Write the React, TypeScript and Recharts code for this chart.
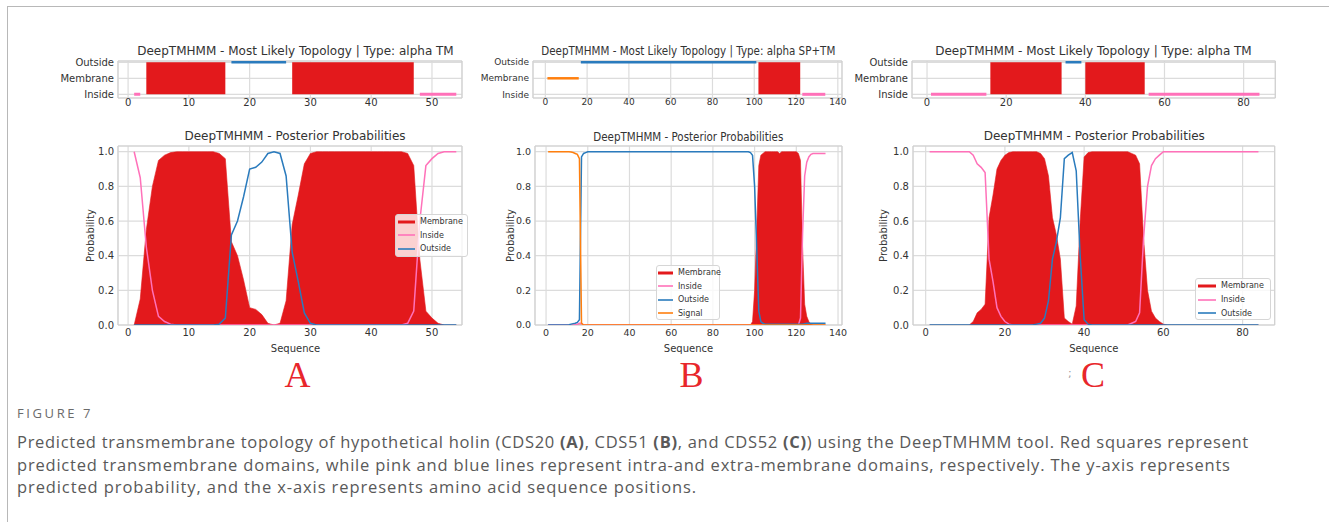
import React from 'react';
import { ComposedChart, Area, Line, XAxis, YAxis, CartesianGrid, ReferenceArea, Legend } from 'recharts';

const RED = '#e3191c';
const PINK = '#ff71b9';
const BLUE = '#2a7bbd';
const ORANGE = '#ff7f0e';
const GRID = '#dcdcdc';
const FRAME = '#cfcfcf';
const INK = '#333333';
const FONT = '"DejaVu Sans", Verdana, sans-serif';

const TOPO_LABELS = ['Inside', 'Membrane', 'Outside'];
const LEGEND_ORDER = ['Membrane', 'Inside', 'Outside', 'Signal'];
const PROB_TICKS = [0, 0.2, 0.4, 0.6, 0.8, 1.0];
const TICKS_A = [0, 10, 20, 30, 40, 50];
const TICKS_B = [0, 20, 40, 60, 80, 100, 120, 140];
const TICKS_C = [0, 20, 40, 60, 80];

// --- A: CDS20, 54 residues ---
const topoMembraneA = [[3, 16], [27, 47]];
const topoInsideA = [[1, 2], [48, 54]];
const topoOutsideA = [[17, 26]];

const membraneA = [
  0, 0.15, 0.55, 0.8, 0.95, 0.98, 0.995, 1, 1, 1,
  1, 1, 1, 1, 0.99, 0.96, 0.48, 0.4, 0.26, 0.1,
  0.09, 0.06, 0.01, 0, 0.01, 0.14, 0.58, 0.75, 0.93, 0.99,
  1, 1, 1, 1, 1, 1, 1, 1, 1, 1,
  1, 1, 1, 1, 1, 0.99, 0.92, 0.38, 0.08, 0.04,
  0.01, 0, 0, 0,
];
const insideA = [
  1, 0.85, 0.45, 0.2, 0.05, 0.02, 0.005, 0, 0, 0,
  0, 0, 0, 0, 0, 0, 0, 0, 0, 0,
  0, 0, 0, 0, 0, 0, 0, 0, 0, 0,
  0, 0, 0, 0, 0, 0, 0, 0, 0, 0,
  0, 0, 0, 0, 0, 0.01, 0.08, 0.6, 0.92, 0.96,
  0.99, 1, 1, 1,
];
const outsideA = [
  0, 0, 0, 0, 0, 0, 0, 0, 0, 0,
  0, 0, 0, 0, 0.005, 0.04, 0.52, 0.6, 0.74, 0.9,
  0.91, 0.94, 0.99, 1, 0.99, 0.86, 0.42, 0.25, 0.07, 0.01,
  0, 0, 0, 0, 0, 0, 0, 0, 0, 0,
  0, 0, 0, 0, 0, 0, 0, 0, 0, 0,
  0, 0, 0, 0,
];

// --- B: CDS51, 134 residues ---
const topoSignalB = [[1, 16]];
const topoOutsideB = [[17, 101]];
const topoMembraneB = [[102, 122]];
const topoInsideB = [[123, 134]];

const signalB = [
  1, 1, 1, 1, 1, 1, 1, 1, 1, 1,
  1, 0.998, 0.995, 0.99, 0.985, 0.96, 0.01, 0, 0, 0,
  0, 0, 0, 0, 0, 0, 0, 0, 0, 0, 0, 0, 0, 0, 0, 0, 0, 0, 0, 0,
  0, 0, 0, 0, 0, 0, 0, 0, 0, 0, 0, 0, 0, 0, 0, 0, 0, 0, 0, 0,
  0, 0, 0, 0, 0, 0, 0, 0, 0, 0, 0, 0, 0, 0, 0, 0, 0, 0, 0, 0,
  0, 0, 0, 0, 0, 0, 0, 0, 0, 0, 0, 0, 0, 0, 0, 0, 0, 0, 0, 0,
  0, 0, 0, 0, 0, 0, 0, 0, 0, 0, 0, 0, 0, 0, 0, 0, 0, 0, 0, 0,
  0, 0, 0, 0, 0, 0, 0, 0, 0, 0, 0, 0, 0, 0,
];
const outsideB = [
  0, 0, 0, 0, 0, 0, 0, 0, 0, 0,
  0.002, 0.005, 0.008, 0.01, 0.015, 0.03, 0.97, 0.99, 0.995, 1,
  1, 1, 1, 1, 1, 1, 1, 1, 1, 1, 1, 1, 1, 1, 1, 1, 1, 1, 1, 1,
  1, 1, 1, 1, 1, 1, 1, 1, 1, 1, 1, 1, 1, 1, 1, 1, 1, 1, 1, 1,
  1, 1, 1, 1, 1, 1, 1, 1, 1, 1, 1, 1, 1, 1, 1, 1, 1, 1, 1, 1,
  1, 1, 1, 1, 1, 1, 1, 1, 1, 1, 1, 1, 1, 1, 1, 1, 1,
  0.995, 0.98, 0.8, 0.45, 0.08, 0.02, 0.01,
  0.005, 0.005, 0.005, 0.005, 0.005, 0.005, 0.005, 0.005, 0.005, 0.005,
  0.005, 0.005, 0.005, 0.005, 0.005, 0.005, 0.005, 0.005, 0.005,
  0.008, 0.01, 0.01, 0.01, 0.01, 0.01, 0.01, 0.01, 0.01, 0.01, 0.01,
];
const membraneB = [
  0, 0, 0, 0, 0, 0, 0, 0, 0, 0, 0, 0, 0, 0, 0, 0, 0, 0, 0, 0,
  0, 0, 0, 0, 0, 0, 0, 0, 0, 0, 0, 0, 0, 0, 0, 0, 0, 0, 0, 0,
  0, 0, 0, 0, 0, 0, 0, 0, 0, 0, 0, 0, 0, 0, 0, 0, 0, 0, 0, 0,
  0, 0, 0, 0, 0, 0, 0, 0, 0, 0, 0, 0, 0, 0, 0, 0, 0, 0, 0, 0,
  0, 0, 0, 0, 0, 0, 0, 0, 0, 0, 0, 0, 0, 0, 0, 0, 0, 0,
  0.02, 0.2, 0.55, 0.92, 0.98, 0.99,
  1, 1, 1, 1, 1, 1, 1, 0.99, 1, 1, 1, 1, 1, 1, 1, 1,
  0.99, 0.95, 0.45, 0.12, 0.05, 0.02, 0.005,
  0, 0, 0, 0, 0, 0, 0,
];
const insideB = [
  0, 0, 0, 0, 0, 0, 0, 0, 0, 0, 0, 0, 0, 0,
  0.005, 0.01, 0.01,
  0, 0, 0, 0, 0, 0, 0, 0, 0, 0, 0, 0, 0, 0, 0, 0, 0, 0, 0, 0,
  0, 0, 0, 0, 0, 0, 0, 0, 0, 0, 0, 0, 0, 0, 0, 0, 0, 0, 0, 0,
  0, 0, 0, 0, 0, 0, 0, 0, 0, 0, 0, 0, 0, 0, 0, 0, 0, 0, 0, 0,
  0, 0, 0, 0, 0, 0, 0, 0, 0, 0, 0, 0, 0, 0, 0, 0, 0, 0, 0, 0,
  0, 0, 0, 0, 0, 0, 0, 0, 0, 0, 0, 0, 0, 0, 0, 0, 0, 0, 0, 0,
  0, 0, 0, 0,
  0.04, 0.53, 0.86, 0.94, 0.97, 0.985,
  0.99, 0.99, 0.99, 0.99, 0.99, 0.99, 0.99,
];

// --- C: CDS52, 84 residues ---
const topoInsideC = [[1, 15], [56, 84]];
const topoMembraneC = [[16, 34], [40, 55]];
const topoOutsideC = [[35, 39]];

const insideC = [
  1, 1, 1, 1, 1, 1, 1, 1, 1, 1, 1,
  0.98, 0.93, 0.91, 0.88, 0.38, 0.25, 0.1, 0.05, 0.02, 0.005,
  0, 0, 0, 0, 0, 0, 0, 0, 0, 0, 0, 0, 0, 0, 0, 0, 0, 0, 0, 0,
  0, 0, 0, 0, 0, 0, 0, 0, 0, 0,
  0.01, 0.02, 0.07, 0.5, 0.8, 0.92, 0.96, 0.98,
  1, 1, 1, 1, 1, 1, 1, 1, 1, 1, 1, 1, 1, 1, 1, 1, 1, 1, 1, 1, 1, 1, 1, 1, 1,
];
const membraneC = [
  0, 0, 0, 0, 0, 0, 0, 0, 0, 0, 0,
  0.02, 0.07, 0.09, 0.12, 0.62, 0.75, 0.9, 0.95, 0.98, 0.995,
  1, 1, 1, 1, 1, 1, 1,
  0.99, 0.96, 0.86, 0.62, 0.52, 0.38, 0.04, 0.02, 0.005, 0.11, 0.6, 0.97, 0.995,
  1, 1, 1, 1, 1, 1, 1, 1, 1, 1,
  0.99, 0.98, 0.93, 0.5, 0.2, 0.08, 0.04, 0.02, 0.005,
  0, 0, 0, 0, 0, 0, 0, 0, 0, 0, 0, 0, 0, 0, 0, 0, 0, 0, 0, 0, 0, 0, 0, 0,
];
const outsideC = [
  0, 0, 0, 0, 0, 0, 0, 0, 0, 0, 0, 0, 0, 0, 0, 0, 0, 0, 0, 0,
  0, 0, 0, 0, 0, 0, 0,
  0.005, 0.01, 0.04, 0.14, 0.38, 0.48, 0.62, 0.96, 0.98, 0.995, 0.89, 0.4, 0.03, 0.005,
  0, 0, 0, 0, 0, 0, 0, 0, 0, 0, 0, 0, 0, 0, 0, 0, 0, 0, 0, 0,
  0, 0, 0, 0, 0, 0, 0, 0, 0, 0, 0, 0, 0, 0, 0, 0, 0, 0, 0, 0,
  0, 0, 0,
];

const TOPO_Y = [-0.23, 2.08];
const PROB_Y = [0, 1.033];

// segment list -> rows with a null break after each segment
const segRows = (segs: number[][], level: any) =>
  segs.flatMap(([a, b]) => [{ pos: a, v: level }, { pos: b, v: level }, { pos: b + 0.01, v: null }]);

const tickStyle = (size = 10) => ({ fontSize: size, fill: INK, fontFamily: FONT });

function TopologyChart(p: any) {
  const yw = 62, mt = 8, mr = 12, xh = 18, fh = 37;
  const width = yw + p.frameWidth + mr;
  const height = mt + fh + xh;
  const fs = p.fontSize || 10;
  return (
    <div style={{ position: 'absolute', left: p.frameLeft - yw, top: p.frameTop - mt }}>
      <ComposedChart width={width} height={height} margin={{ top: mt, right: mr, left: 0, bottom: 0 }}>
        <CartesianGrid stroke={GRID} strokeWidth={1.2} />
        <XAxis type="number" dataKey="pos" domain={p.xDomain} ticks={p.xTicks} allowDataOverflow interval={0}
          height={xh} tickLine={false} axisLine={false} tickSize={1} tickMargin={0} tick={tickStyle(fs)} />
        <YAxis type="number" domain={TOPO_Y} ticks={[0, 1, 2]} allowDataOverflow interval={0}
          width={yw} tickLine={false} axisLine={false} tickSize={4} tickMargin={0}
          tickFormatter={(v: number) => TOPO_LABELS[v]} tick={tickStyle(fs)} />
        <ReferenceArea x1={p.xDomain[0]} x2={p.xDomain[1]} y1={TOPO_Y[0]} y2={TOPO_Y[1]} fill="none" stroke={FRAME} />
        <Area data={segRows(p.membrane, [0, 2])} dataKey="v" type="linear" fill={RED} fillOpacity={1}
          stroke="none" isAnimationActive={false} />
        {p.signal && (
          <Line data={segRows(p.signal, 1)} dataKey="v" stroke={ORANGE} strokeWidth={2.5} dot={false} isAnimationActive={false} />
        )}
        {p.outside && (
          <Line data={segRows(p.outside, 2)} dataKey="v" stroke={BLUE} strokeWidth={2.5} dot={false} isAnimationActive={false} />
        )}
        <Line data={segRows(p.inside, 0)} dataKey="v" stroke={PINK} strokeWidth={3} dot={false} isAnimationActive={false} />
      </ComposedChart>
    </div>
  );
}

const legendContent = (box: any) => (props: any) => {
  const items = [...(props.payload || [])].sort(
    (a: any, b: any) => LEGEND_ORDER.indexOf(a.value) - LEGEND_ORDER.indexOf(b.value),
  );
  return (
    <div style={{
      width: box.w, height: box.h, boxSizing: 'border-box', background: 'rgba(255,255,255,0.8)',
      border: '1px solid #d6d6d6', borderRadius: 3, paddingLeft: box.pl,
    }}>
      {items.map((e: any) => (
        <div key={e.value} style={{ display: 'flex', alignItems: 'center', height: box.row, fontFamily: FONT, fontSize: 8, color: INK }}>
          <svg width={box.line} height={6} style={{ marginRight: box.gap, flexShrink: 0 }}>
            <line x1={0} y1={3} x2={box.line} y2={3} stroke={e.color} strokeWidth={e.type === 'rect' ? 3 : 1.6} />
          </svg>
          {e.value}
        </div>
      ))}
    </div>
  );
};

function ProbChart(p: any) {
  const yw = 45, mt = 8, mr = 14, xh = 32, fh = 179;
  const width = yw + p.frameWidth + mr;
  const height = mt + fh + xh;
  const chartLeft = p.frameLeft - yw;
  const chartTop = p.frameTop - mt;
  const fs = p.fontSize || 10;
  const rows = p.membrane.map((m: number, i: number) => ({
    pos: i + 1,
    membrane: m,
    inside: p.inside[i],
    outside: p.outside[i],
    signal: p.signal ? p.signal[i] : null,
  }));
  const labelStyle = { fontSize: 10, fill: INK, fontFamily: FONT, textAnchor: 'middle' };
  return (
    <div style={{ position: 'absolute', left: chartLeft, top: chartTop }}>
      <ComposedChart width={width} height={height} data={rows} margin={{ top: mt, right: mr, left: 0, bottom: 0 }}>
        <CartesianGrid stroke={GRID} strokeWidth={1.2} />
        <XAxis type="number" dataKey="pos" domain={p.xDomain} ticks={p.xTicks} allowDataOverflow interval={0}
          height={xh} tickLine={false} axisLine={false} tickSize={4} tickMargin={0} tick={tickStyle(fs)}
          label={{ value: 'Sequence', position: 'insideBottom', offset: 5, dx: p.xlabelDx || 0, style: labelStyle }} />
        <YAxis type="number" domain={PROB_Y} ticks={PROB_TICKS} allowDataOverflow interval={0}
          width={yw} tickLine={false} axisLine={false} tickSize={4} tickMargin={0}
          tickFormatter={(v: number) => v.toFixed(1)} tick={tickStyle(fs)}
          label={{ value: 'Probability', angle: -90, position: 'insideLeft', offset: yw - p.ylabelGap, style: labelStyle }} />
        <ReferenceArea x1={p.xDomain[0]} x2={p.xDomain[1]} y1={PROB_Y[0]} y2={PROB_Y[1]} fill="none" stroke={FRAME} />
        <Area dataKey="membrane" name="Membrane" type="linear" fill={RED} fillOpacity={1} stroke={RED}
          strokeWidth={0.6} legendType="rect" isAnimationActive={false} />
        <Line dataKey="inside" name="Inside" stroke={PINK} strokeWidth={1.5} dot={false} isAnimationActive={false} />
        <Line dataKey="outside" name="Outside" stroke={BLUE} strokeWidth={1.5} dot={false} isAnimationActive={false} />
        {p.signal && (
          <Line dataKey="signal" name="Signal" stroke={ORANGE} strokeWidth={1.5} dot={false} isAnimationActive={false} />
        )}
        <Legend layout="vertical" align="center" verticalAlign="middle"
          wrapperStyle={{ left: p.legend.x - chartLeft, top: p.legend.y - chartTop, width: p.legend.w, height: p.legend.h }}
          content={legendContent(p.legend)} />
      </ComposedChart>
    </div>
  );
}

const TITLE_TOPO = 'DeepTMHMM - Most Likely Topology | Type: ';
const TITLE_PROB = 'DeepTMHMM - Posterior Probabilities';

export default function App() {
  const captionLine = {
    position: 'absolute' as const, left: 17, fontFamily: '"Open Sans", sans-serif', fontSize: 16.5,
    letterSpacing: 0.7, color: '#595959', whiteSpace: 'nowrap' as const,
  };
  return (
    <div style={{ position: 'absolute', left: 0, top: 0, width: 1329, height: 522, background: '#fff', overflow: 'hidden' }}>
      <div style={{ position: 'absolute', left: 7, top: 6, width: 1340, height: 530, borderTop: '1px solid #b8b8b8', borderLeft: '1px solid #b8b8b8' }} />

      <svg width={1329} height={522} style={{ position: 'absolute', left: 0, top: 0 }}>
        <g fontFamily={FONT} fontSize={12} fill={INK} textAnchor="middle">
          <text x={295.5} y={55}>{TITLE_TOPO + 'alpha TM'}</text>
          <text x={295} y={140}>{TITLE_PROB}</text>
          <text x={688.3} y={55} textLength={294} lengthAdjust="spacingAndGlyphs">{TITLE_TOPO + 'alpha SP+TM'}</text>
          <text x={688.3} y={140.5} textLength={190} lengthAdjust="spacingAndGlyphs">{TITLE_PROB}</text>
          <text x={1093.5} y={55}>{TITLE_TOPO + 'alpha TM'}</text>
          <text x={1094.3} y={140}>{TITLE_PROB}</text>
        </g>
        <g fontFamily='"Liberation Serif", serif' fontSize={36} fill="#e8262b" textAnchor="middle">
          <text x={297.5} y={387}>A</text>
          <text x={691.5} y={387}>B</text>
          <text x={1093} y={387}>C</text>
        </g>
        <text x={1068} y={377} fontSize={11} fill="#9a9a9a" fontFamily={FONT}>;</text>
      </svg>

      <TopologyChart frameLeft={117.7} frameTop={61} frameWidth={344} xDomain={[-1.66, 54.94]} xTicks={TICKS_A}
        membrane={topoMembraneA} inside={topoInsideA} outside={topoOutsideA} />
      <ProbChart frameLeft={117.7} frameTop={146} frameWidth={344} xDomain={[-1.66, 54.94]} xTicks={TICKS_A}
        membrane={membraneA} inside={insideA} outside={outsideA} ylabelGap={27.7} xlabelDx={5.5}
        legend={{ x: 395, y: 214, w: 73, h: 43, row: 13.6, pl: 2, line: 17, gap: 5 }} />

      <TopologyChart frameLeft={533.3} frameTop={61} frameWidth={309} xDomain={[-5.9, 142]} xTicks={TICKS_B}
        fontSize={9} membrane={topoMembraneB} inside={topoInsideB} outside={topoOutsideB} signal={topoSignalB} />
      <ProbChart frameLeft={535} frameTop={146} frameWidth={307} xDomain={[-5.3, 141.9]} xTicks={TICKS_B}
        fontSize={9.5} membrane={membraneB} inside={insideB} outside={outsideB} signal={signalB} ylabelGap={25}
        legend={{ x: 656, y: 265, w: 64, h: 55, row: 13.5, pl: 1, line: 15, gap: 5 }} />

      <TopologyChart frameLeft={911.7} frameTop={61} frameWidth={363.3} xDomain={[-3.8, 88]} xTicks={TICKS_C}
        membrane={topoMembraneC} inside={topoInsideC} outside={topoOutsideC} />
      <ProbChart frameLeft={913.3} frameTop={146} frameWidth={361.7} xDomain={[-3.2, 88.1]} xTicks={TICKS_C}
        membrane={membraneC} inside={insideC} outside={outsideC} ylabelGap={30}
        legend={{ x: 1195, y: 278, w: 76, h: 42, row: 13.7, pl: 2, line: 18, gap: 5 }} />

      <div style={{ position: 'absolute', left: 17, top: 404, fontFamily: '"Open Sans", sans-serif', fontSize: 13, color: '#6b6b6b', letterSpacing: 2.6 }}>FIGURE 7</div>
      <div style={{ ...captionLine, top: 430 }}>
        Predicted transmembrane topology of hypothetical holin (CDS20 <b>(A)</b>, CDS51 <b>(B)</b>, and CDS52 <b>(C)</b>) using the DeepTMHMM tool. Red squares represent
      </div>
      <div style={{ ...captionLine, top: 452.5, letterSpacing: 0.8 }}>
        predicted transmembrane domains, while pink and blue lines represent intra-and extra-membrane domains, respectively. The y-axis represents
      </div>
      <div style={{ ...captionLine, top: 475, letterSpacing: 0.9 }}>
        predicted probability, and the x-axis represents amino acid sequence positions.
      </div>
    </div>
  );
}
